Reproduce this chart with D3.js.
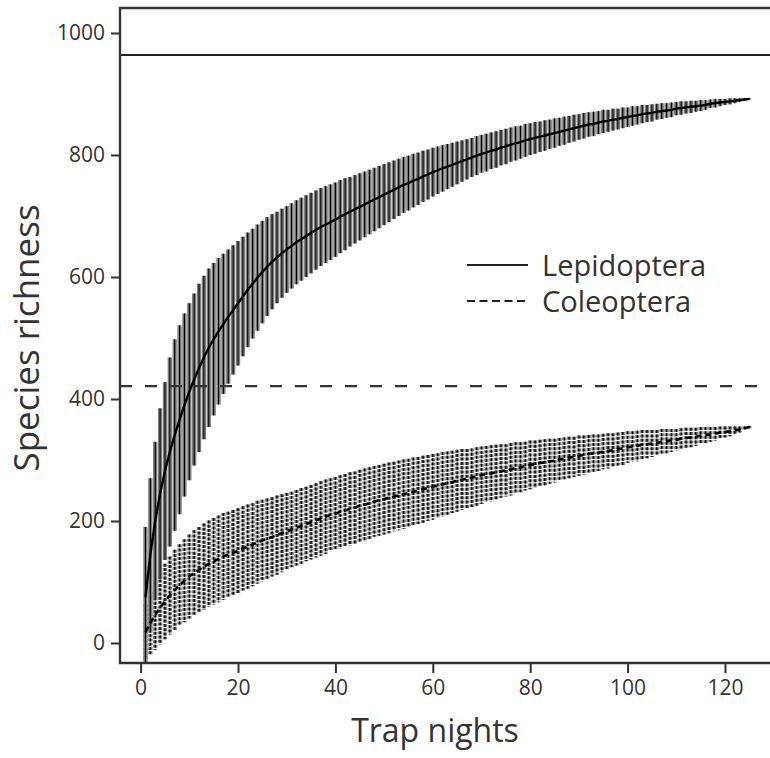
<!DOCTYPE html>
<html>
<head>
<meta charset="utf-8">
<script src="https://d3js.org/d3.v7.min.js"></script>
<style>
body { margin:0; background:#fff; }
text { font-family: "Open Sans", "DejaVu Sans", sans-serif; fill:#333; }
</style>
</head>
<body>
<script>
// trap nights 1..125
var nights = d3.range(1, 126);

// Lepidoptera rarefaction: mean and sd per trap night
var lepMean = [75,145,200,245,282,313,341,366,390,412,
  432,451,468,484,498,511,523,535,546,557,
  568,579,589,599,608,617,625,632,639,645,
  651,657,662,667,672,677,682,686,690,694,
  699,703,707,711,715,719,723,727,731,735,
  739,743,747,751,754,758,761,765,768,772,
  775,778,781,784,787,790,793,796,799,802,
  804,807,809,812,814,817,819,821,824,826,
  828,830,832,834,836,838,840,842,844,846,
  848,850,851,853,855,856,858,859,861,862,
  864,865,867,868,869,871,872,873,874,876,
  877,878,879,880,881,882,884,885,886,887,
  888,889,890,891,892];
var lepSd = [115,125,130,140,146,155,157,155,150,145,
  141,138,134,130,125,120,115,110,106,102,
  98,94,90,87,84,81,78,75,73,71,
  70,69,68,67,66,65,64,63,62,61,
  60,59,57,56,55,54,53,52,51,50,
  49,48,47,46,45,44,43,42,41,40,
  39,38,37,36,35,34,33,32,32,31,
  31,30,30,29,29,28,28,27,27,26,
  26,25,25,24,24,23,23,22,22,21,
  21,20,20,19,19,18,18,17,17,16,
  16,15,15,14,14,13,13,12,12,11,
  11,10,10,9,9,8,7,7,6,5,
  5,4,3,2,1];

// Coleoptera rarefaction
var colMean = [18,33,46,58,68,78,87,95,102,109,
  115,120,125,130,134,138,142,145,148,151,
  155,158,161,165,168,171,174,177,180,183,
  186,189,192,195,198,201,204,207,210,212,
  215,217,220,222,225,227,229,232,234,236,
  238,240,242,244,246,248,250,252,254,256,
  258,260,262,264,266,268,269,271,273,275,
  277,278,280,282,283,285,287,288,290,292,
  293,295,296,298,299,301,302,304,305,307,
  308,310,311,312,314,315,316,318,319,321,
  322,323,325,326,327,328,330,331,332,333,
  335,336,337,338,340,341,342,343,345,346,
  347,349,350,352,354];
var colSd = [45,52,57,60,62,64,66,67,68,69,
  70,70,71,71,71,71,71,70,70,70,
  69,69,68,68,67,66,65,65,64,63,
  62,62,62,61,61,61,61,61,60,60,
  60,60,60,59,59,59,59,58,58,58,
  58,57,57,57,56,56,55,55,54,54,
  53,53,52,51,51,50,49,48,48,47,
  46,46,45,44,43,43,42,41,40,40,
  39,38,38,37,36,35,35,34,33,33,
  32,31,31,30,29,29,28,27,27,26,
  25,25,24,23,22,21,21,20,19,18,
  17,17,16,15,14,13,12,11,10,9,
  8,6,5,3,2];

// estimated total richness (horizontal lines)
var lepTotal = 964;
var colTotal = 421;

var xTicks = [0,20,40,60,80,100,120];
var yTicks = [0,200,400,600,800,1000];

var W = 770, H = 758;
var pLeft = 120, pTop = 8, pBottom = 663, pRight = 775;

var svg = d3.select("body").append("svg")
  .attr("width", W)
  .attr("height", H);

var x = d3.scaleLinear().domain([0,120]).range([140.6,725]);
var y = d3.scaleLinear().domain([0,1000]).range([643,33]);

svg.append("clipPath").attr("id","plotclip")
  .append("rect")
  .attr("x", pLeft).attr("y", pTop)
  .attr("width", pRight-pLeft).attr("height", pBottom-pTop);

var plot = svg.append("g").attr("clip-path","url(#plotclip)");

var lep = nights.map(function(n,i){ return {n:n, m:lepMean[i], s:lepSd[i]}; });
var col = nights.map(function(n,i){ return {n:n, m:colMean[i], s:colSd[i]}; });

function bars(data, color, width, dash) {
  plot.append("g").selectAll("line").data(data).enter().append("line")
    .attr("x1", function(d){ return x(d.n); })
    .attr("x2", function(d){ return x(d.n); })
    .attr("y1", function(d){ return y(d.m + d.s); })
    .attr("y2", function(d){ return y(d.m - d.s); })
    .attr("stroke", color)
    .attr("stroke-width", width)
    .attr("stroke-dasharray", dash);
}

// coleoptera bars (dashed), then lepidoptera bars
bars(col, "#7e7e7e", 4.3, "3,1.3");
bars(col, "#000", 1.4, "3,1.3");
bars(lep, "#7f7f7f", 4.3, null);
bars(lep, "#000", 1.1, null);

// mean curves
var line = d3.line()
  .x(function(d){ return x(d.n); })
  .y(function(d){ return y(d.m); });

plot.append("path").datum(lep)
  .attr("d", line)
  .attr("fill","none")
  .attr("stroke","#000")
  .attr("stroke-width",2.4);

plot.append("path").datum(col)
  .attr("d", line)
  .attr("fill","none")
  .attr("stroke","#000")
  .attr("stroke-width",2.6)
  .attr("stroke-dasharray","6,4");

// total richness lines
plot.append("line")
  .attr("x1", pLeft).attr("x2", pRight)
  .attr("y1", y(lepTotal)).attr("y2", y(lepTotal))
  .attr("stroke","#222").attr("stroke-width",2);
plot.append("line")
  .attr("x1", pLeft).attr("x2", pRight)
  .attr("y1", y(colTotal)).attr("y2", y(colTotal))
  .attr("stroke","#333").attr("stroke-width",2.2)
  .attr("stroke-dasharray","12,13");

// frame (left, bottom, top)
svg.append("path")
  .attr("d", "M" + pRight + "," + pTop + "H" + pLeft + "V" + pBottom + "H" + pRight)
  .attr("fill","none")
  .attr("stroke","#333")
  .attr("stroke-width",2.4);

// axes
var yAxis = d3.axisLeft(y).tickValues(yTicks).tickFormat(d3.format("d")).tickSize(9).tickPadding(6);
var gy = svg.append("g").attr("transform","translate(" + pLeft + ",0)").call(yAxis);
var xAxis = d3.axisBottom(x).tickValues(xTicks).tickFormat(d3.format("d")).tickSize(10).tickPadding(7);
var gx = svg.append("g").attr("transform","translate(0," + pBottom + ")").call(xAxis);

[gx, gy].forEach(function(g){
  g.attr("font-size", null).attr("font-family", null);
  g.select(".domain").remove();
  g.selectAll(".tick line").attr("stroke","#333").attr("stroke-width",2);
  g.selectAll(".tick text")
    .style("font-size","21px")
    .attr("fill","#333");
});

// axis titles
svg.append("text")
  .attr("x", 435).attr("y", 742)
  .attr("text-anchor","middle")
  .style("font-size","32px")
  .text("Trap nights");

svg.append("text")
  .attr("transform","translate(39,338) rotate(-90)")
  .attr("text-anchor","middle")
  .style("font-size","35px")
  .text("Species richness");

// legend
svg.append("line")
  .attr("x1",467).attr("x2",528).attr("y1",265).attr("y2",265)
  .attr("stroke","#222").attr("stroke-width",2);
svg.append("line")
  .attr("x1",467).attr("x2",528).attr("y1",301).attr("y2",301)
  .attr("stroke","#222").attr("stroke-width",2)
  .attr("stroke-dasharray","8,4.5");
svg.append("text")
  .attr("x",542).attr("y",276)
  .style("font-size","29px")
  .text("Lepidoptera");
svg.append("text")
  .attr("x",542).attr("y",312)
  .style("font-size","29px")
  .text("Coleoptera");
</script>
</body>
</html>
